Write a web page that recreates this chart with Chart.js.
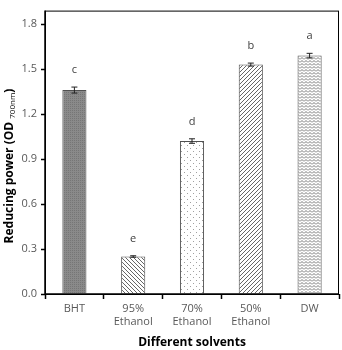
<!DOCTYPE html>
<html>
<head>
<meta charset="utf-8">
<script src="https://cdn.jsdelivr.net/npm/chart.js@4"></script>
<style>
  html, body { margin: 0; padding: 0; background: #fff; }
  #wrap { width: 342px; height: 350px; }
</style>
</head>
<body>
<div id="wrap"><canvas id="solventChart" width="342" height="350"></canvas></div>
<script>
// Data
const categories = [['BHT'], ['95%', 'Ethanol'], ['70%', 'Ethanol'], ['50%', 'Ethanol'], ['DW']];
const reducingPower = [1.36, 0.25, 1.02, 1.53, 1.59];
const errorValues = [0.02, 0.005, 0.015, 0.01, 0.015];
const letters = ['c', 'e', 'd', 'b', 'a'];
const yTicks = [0.0, 0.3, 0.6, 0.9, 1.2, 1.5, 1.8];

// Pattern helpers
function makePattern(w, h, bg, draw) {
    const c = document.createElement('canvas');
    c.width = w; c.height = h;
    const x = c.getContext('2d');
    x.fillStyle = bg;
    x.fillRect(0, 0, w, h);
    draw(x);
    return x.createPattern(c, 'repeat');
}

const patterns = [
    makePattern(2, 2, '#8a8a8a', x => { x.fillStyle = '#767676'; x.fillRect(0, 0, 1, 1); }),
    makePattern(4, 4, '#ffffff', x => {
        x.strokeStyle = '#666'; x.lineWidth = 1;
        x.beginPath(); x.moveTo(-1, -1); x.lineTo(5, 5); x.moveTo(-1, 3); x.lineTo(1, 5); x.moveTo(3, -1); x.lineTo(5, 1); x.stroke();
    }),
    makePattern(6, 6, '#ffffff', x => { x.fillStyle = '#a0a0a0'; x.fillRect(1, 1, 1, 1); x.fillRect(4, 4, 1, 1); }),
    makePattern(4, 4, '#ffffff', x => {
        x.strokeStyle = '#666'; x.lineWidth = 1;
        x.beginPath(); x.moveTo(-1, 5); x.lineTo(5, -1); x.moveTo(-1, 1); x.lineTo(1, -1); x.moveTo(3, 5); x.lineTo(5, 3); x.stroke();
    }),
    makePattern(4, 3, '#ffffff', x => {
        x.strokeStyle = '#777'; x.lineWidth = 1;
        x.beginPath(); x.moveTo(0, 2.5); x.lineTo(2, 0.5); x.lineTo(4, 2.5); x.stroke();
    })
];

// Box round the plot area, error bars, letters and y title
const extrasPlugin = {
    id: 'extras',
    afterDatasetsDraw(chart) {
        const { ctx, chartArea, scales } = chart;
        const meta = chart.getDatasetMeta(0);
        ctx.save();
        ctx.strokeStyle = '#222';
        ctx.lineWidth = 1;
        meta.data.forEach((bar, i) => {
            const hi = scales.y.getPixelForValue(reducingPower[i] + errorValues[i]);
            const lo = scales.y.getPixelForValue(reducingPower[i] - errorValues[i]);
            ctx.beginPath();
            ctx.moveTo(bar.x, hi); ctx.lineTo(bar.x, lo);
            ctx.moveTo(bar.x - 3, hi); ctx.lineTo(bar.x + 3, hi);
            ctx.moveTo(bar.x - 3, lo); ctx.lineTo(bar.x + 3, lo);
            ctx.stroke();
            ctx.fillStyle = '#404040';
            ctx.font = '11px "Open Sans", sans-serif';
            ctx.textAlign = 'center';
            ctx.textBaseline = 'middle';
            ctx.fillText(letters[i], bar.x, hi - 17);
        });
        ctx.strokeStyle = '#000';
        ctx.lineWidth = 1;
        ctx.strokeRect(chartArea.left + 0.5, chartArea.top + 0.5, chartArea.right - chartArea.left - 1, chartArea.bottom - chartArea.top);
        ctx.lineWidth = 1.5;
        ctx.beginPath();
        ctx.moveTo(chartArea.left, chartArea.top); ctx.lineTo(chartArea.left, chartArea.bottom);
        ctx.lineTo(chartArea.right, chartArea.bottom);
        ctx.stroke();

        // y title with subscript
        ctx.translate(10, 166);
        ctx.rotate(-Math.PI / 2);
        ctx.fillStyle = '#000';
        ctx.textBaseline = 'middle';
        ctx.textAlign = 'left';
        const big = 'bold 12px "Open Sans", sans-serif';
        const small = '8px "Open Sans", sans-serif';
        const p1 = 'Reducing power (OD ', p2 = '700nm', p3 = ')';
        ctx.font = big; const w1 = ctx.measureText(p1).width; const w3 = ctx.measureText(p3).width;
        ctx.font = small; const w2 = ctx.measureText(p2).width;
        const x0 = -(w1 + w2 + w3) / 2;
        ctx.font = big; ctx.fillText(p1, x0, 0);
        ctx.font = small; ctx.fillText(p2, x0 + w1, 3);
        ctx.font = big; ctx.fillText(p3, x0 + w1 + w2, 0);
        ctx.restore();
    }
};

const chart = new Chart(document.getElementById('solventChart'), {
    type: 'bar',
    data: {
        labels: categories,
        datasets: [{
            data: reducingPower,
            backgroundColor: patterns,
            borderColor: '#505050',
            borderWidth: 1,
            categoryPercentage: 1,
            barPercentage: 0.41
        }]
    },
    options: {
        responsive: false,
        animation: false,
        layout: { padding: { top: 10, right: 3, left: 0, bottom: 0 } },
        plugins: { legend: { display: false }, tooltip: { enabled: false } },
        scales: {
            x: {
                grid: { offset: true, drawOnChartArea: false, color: '#000', tickLength: 5, tickWidth: 1.5 },
                border: { display: false },
                ticks: { color: '#595959', font: { family: '"Open Sans", sans-serif', size: 11, lineHeight: 1.2 }, padding: 3, maxRotation: 0 },
                title: { display: true, text: 'Different solvents', color: '#000', font: { family: '"Open Sans", sans-serif', size: 12, weight: 'bold' }, padding: { top: 2, bottom: 0 } },
                afterFit: s => { s.height = 56; }
            },
            y: {
                min: 0,
                max: 1.89,
                grid: { drawOnChartArea: false, color: '#000', tickLength: 4, tickWidth: 1.5 },
                border: { display: false },
                afterBuildTicks: s => { s.ticks = yTicks.map(v => ({ value: v })); },
                ticks: { color: '#595959', font: { family: '"Open Sans", sans-serif', size: 11 }, padding: 4, callback: v => v.toFixed(1) },
                afterFit: s => { s.width = 45; }
            }
        }
    },
    plugins: [extrasPlugin]
});
</script>
</body>
</html>
